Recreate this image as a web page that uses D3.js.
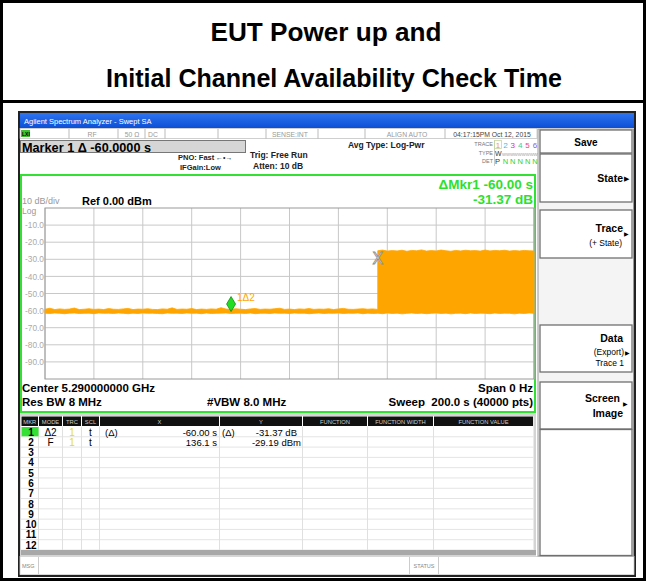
<!DOCTYPE html>
<html><head><meta charset="utf-8">
<script src="https://cdn.jsdelivr.net/npm/d3@7"></script>
<style>html,body{margin:0;padding:0;background:#fff}svg{display:block;font-family:"Liberation Sans",Arial,sans-serif}</style>
</head><body><svg id="c" width="646" height="581"></svg>
<script>
// ---------------- data ----------------
const titleLines = ["EUT Power up and", "Initial Channel Availability Check Time"];
const sweepTime = [0, 200];              // s
const refRange = [-100, 0];             // dBm
const yTickValues = [-10, -20, -30, -40, -50, -60, -70, -80, -90];
const xGridValues = [0, 20, 40, 60, 80, 100, 120, 140, 160, 180, 200];

const floorTime = [0,2,4,6,8,10,12,14,16,18,20,22,24,26,28,30,32,34,36,38,40,42,44,46,48,50,52,54,56,58,60,62,64,66,68,70,72,74,76,78,80,82,84,86,88,90,92,94,96,98,100,102,104,106,108,110,112,114,116,118,120,122,124,126,128,130,132,134,136];
const floorHigh = [-59.2,-58.6,-59.4,-59.0,-59.3,-59.1,-58.5,-59.4,-59.2,-58.9,
  -59.3,-59.1,-59.4,-58.8,-59.2,-59.3,-59.0,-58.7,-59.4,-59.1,
  -59.2,-58.9,-59.3,-59.4,-59.0,-59.2,-58.4,-59.3,-59.1,-59.2,
  -58.8,-59.4,-59.1,-59.3,-59.0,-59.2,-58.3,-59.1,-59.3,-58.9,
  -59.2,-59.4,-59.0,-58.8,-59.3,-59.1,-59.2,-58.9,-58.6,-59.3,
  -59.1,-59.4,-59.0,-59.2,-58.8,-59.3,-59.1,-59.2,-58.9,-59.4,
  -59.0,-58.7,-59.2,-59.3,-59.1,-58.9,-59.2,-59.0,-59.3];
const floorLow = [-61.5,-61.7,-61.4,-61.6,-61.8,-61.5,-61.4,-61.7,-61.6,-61.5,
  -61.8,-61.4,-61.6,-61.5,-61.7,-61.4,-61.6,-61.8,-61.5,-61.7,
  -61.4,-61.6,-61.5,-61.7,-61.8,-61.4,-61.6,-61.5,-61.7,-61.4,
  -61.6,-61.5,-61.8,-61.4,-61.7,-61.6,-61.5,-61.4,-61.7,-61.6,
  -61.5,-61.7,-61.4,-61.8,-61.6,-61.5,-61.7,-61.4,-61.6,-61.5,
  -61.7,-61.4,-61.6,-61.5,-61.8,-61.6,-61.4,-61.7,-61.5,-61.6,
  -61.4,-61.7,-61.5,-61.6,-61.4,-61.8,-61.5,-61.7,-61.6];

const onTime = [136.1,138,140,142,144,146,148,150,152,154,156,158,160,162,164,166,168,170,172,174,176,178,180,182,184,186,188,190,192,194,196,198,200];
const onHigh = [-25.0,-24.6,-25.2,-24.9,-25.1,-24.7,-25.3,-24.8,-25.0,-24.5,
  -25.2,-24.9,-25.1,-24.6,-25.0,-25.3,-24.8,-25.1,-24.7,-25.0,
  -24.9,-25.2,-24.6,-25.1,-24.8,-25.0,-24.7,-25.2,-24.9,-25.1,
  -24.8,-25.0,-25.1];
const onLow = [-61.5,-61.8,-61.4,-61.7,-61.5,-61.9,-61.6,-61.4,-61.7,-61.5,
  -61.8,-61.6,-61.4,-61.7,-61.5,-61.9,-61.6,-61.5,-61.8,-61.4,
  -61.7,-61.5,-61.6,-61.8,-61.4,-61.7,-61.5,-61.6,-61.9,-61.5,
  -61.7,-61.4,-61.6];

// markers: marker 2 (fixed) at 136.1 s / -29.19 dBm; marker 1 delta = -60.00 s / -31.37 dB
const markerTime = [76.1, 136.1];
const markerValue = [-60.56, -29.19];

const tableCols = ["MKR","MODE","TRC","SCL","X","Y","FUNCTION","FUNCTION WIDTH","FUNCTION VALUE"];
const tableRowNums = ["1","2","3","4","5","6","7","8","9","10","11","12"];
const row1 = ["Δ2","1","t","(Δ)","-60.00 s","(Δ)","-31.37 dB"];
const row2 = ["F","1","t","","136.1 s","","-29.19 dBm"];

const statusLabels = ["RF","50 Ω","DC","SENSE:INT","ALIGN AUTO","04:17:15PM Oct 12, 2015"];
const traceNums = ["1","2","3","4","5","6"];
const traceColors = ["#f0a020","#20c8f0","#e020e0","#30d0a0","#f04080","#8060f0"];

// ---------------- drawing ----------------
const svg = d3.select("#c");
const F = '"Liberation Sans",Arial,sans-serif';
function txt(g, x, y, s, o) {
  o = o || {};
  return g.append("text").attr("x", x).attr("y", y).text(s)
    .attr("font-size", o.size || 10).attr("font-weight", o.bold ? "bold" : "normal")
    .attr("fill", o.fill || "#000").attr("text-anchor", o.anchor || "start");
}

// outer table
svg.append("rect").attr("x",1.5).attr("y",1.5).attr("width",643).attr("height",578)
  .attr("fill","#fff").attr("stroke","#000").attr("stroke-width",3);
svg.append("line").attr("x1",0).attr("x2",646).attr("y1",101.5).attr("y2",101.5)
  .attr("stroke","#000").attr("stroke-width",3);
const titleW = [231, 456];
const titleX = [326, 334];
titleLines.forEach((t,i)=> txt(svg, titleX[i], 41 + i*46, t, {size:25, bold:true, anchor:"middle"})
  .attr("textLength", titleW[i]).attr("lengthAdjust","spacingAndGlyphs"));

// screenshot frame
svg.append("rect").attr("x",19).attr("y",112).attr("width",616).attr("height",464)
  .attr("fill","#fff").attr("stroke","#222").attr("stroke-width",2);
const grad = svg.append("defs").append("linearGradient").attr("id","bar").attr("x1",0).attr("x2",0).attr("y1",0).attr("y2",1);
grad.append("stop").attr("offset","0").attr("stop-color","#2f74f0");
grad.append("stop").attr("offset","1").attr("stop-color","#0c4fd6");
svg.append("rect").attr("x",20).attr("y",113).attr("width",614).attr("height",15).attr("fill","url(#bar)");
txt(svg, 24, 124, "Agilent Spectrum Analyzer - Swept SA", {size:7.5, fill:"#fff"});

// status row
svg.append("rect").attr("x",20).attr("y",128.5).attr("width",517).attr("height",10).attr("fill","#fff").attr("stroke","#bbb").attr("stroke-width",0.7);
[69,118,145,165,218,266,318,365,445].forEach(x=>svg.append("line").attr("x1",x).attr("x2",x).attr("y1",129).attr("y2",138.5).attr("stroke","#aaa").attr("stroke-width",0.8));
svg.append("rect").attr("x",21).attr("y",130).attr("width",9).attr("height",7).attr("fill","#40c030");
txt(svg,22,136,"LXI",{size:5,bold:true,fill:"#000"});
const statX = [92,132,153,290,407,492];
statusLabels.forEach((s,i)=> txt(svg, statX[i], 136.5, s, {size:6.8, fill: i===5?"#444":"#999", anchor:"middle"}));

// marker bar
svg.append("rect").attr("x",20.5).attr("y",140.5).attr("width",225).attr("height",12).attr("fill","#d6d6d6").attr("stroke","#777").attr("stroke-width",1);
txt(svg, 22, 151.5, "Marker 1 Δ -60.0000 s", {size:12.7, bold:true});

txt(svg, 178, 160, "PNO: Fast", {size:7.5, bold:true, fill:"#222"});
txt(svg, 216, 160, "←•→", {size:7, fill:"#222"});
txt(svg, 180, 170, "IFGain:Low", {size:7.5, bold:true, fill:"#222"});
txt(svg, 250, 158, "Trig: Free Run", {size:8.5, bold:true, fill:"#222"});
txt(svg, 253, 169, "Atten: 10 dB", {size:8.5, bold:true, fill:"#222"});
txt(svg, 348, 147.5, "Avg Type: Log-Pwr", {size:8.5, bold:true, fill:"#222"});

txt(svg, 493, 146, "TRACE", {size:5.5, fill:"#777", anchor:"end"});
txt(svg, 493, 154.5, "TYPE", {size:5.5, fill:"#777", anchor:"end"});
txt(svg, 493, 163, "DET", {size:5.5, fill:"#777", anchor:"end"});
svg.append("line").attr("x1",494.5).attr("x2",494.5).attr("y1",140).attr("y2",166).attr("stroke","#ccc");
svg.append("rect").attr("x",494.5).attr("y",140.5).attr("width",7).attr("height",8).attr("fill","none").attr("stroke","#c8d8a0").attr("stroke-width",0.8);
traceNums.forEach((n,i)=> txt(svg, 498 + i*7.4, 147.5, n, {size:8, fill:traceColors[i], anchor:"middle"}));
txt(svg, 495, 155.5, "W", {size:7, fill:"#333"});
txt(svg, 502, 155.5, "WWWWWWWWWW", {size:4.2, fill:"#999"});
txt(svg, 495, 164, "P", {size:7.5, fill:"#333"});
["N","N","N","N","N"].forEach((n,i)=> txt(svg, 505.4 + i*7.4, 164, n, {size:7.5, fill:"#30d030", anchor:"middle"}));

// graph frame
svg.append("rect").attr("x",21).attr("y",175).attr("width",514).attr("height",237)
  .attr("fill","#fff").attr("stroke","#33e033").attr("stroke-width",2);
txt(svg, 533, 189, "ΔMkr1 -60.00 s", {size:13.5, bold:true, fill:"#2ee02e", anchor:"end"});
txt(svg, 533, 204, "-31.37 dB", {size:13.5, bold:true, fill:"#2ee02e", anchor:"end"});
txt(svg, 22, 204, "10 dB/div", {size:9, fill:"#999"});
txt(svg, 82, 205, "Ref 0.00 dBm", {size:11, bold:true});
txt(svg, 22, 214, "Log", {size:8.5, fill:"#999"});

const x = d3.scaleLinear().domain(sweepTime).range([45, 534]);
const y = d3.scaleLinear().domain(refRange).range([379, 208]);

const grid = svg.append("g");
grid.selectAll("line.v").data(xGridValues).join("line")
  .attr("x1",d=>x(d)).attr("x2",d=>x(d)).attr("y1",y(0)).attr("y2",y(-100))
  .attr("stroke","#c8c8c8").attr("stroke-width",1);
grid.selectAll("line.h").data(yTickValues).join("line")
  .attr("x1",x(0)).attr("x2",x(200)).attr("y1",d=>y(d)).attr("y2",d=>y(d))
  .attr("stroke","#c8c8c8").attr("stroke-width",1);
svg.append("rect").attr("x",x(0)).attr("y",y(0)).attr("width",x(200)-x(0)).attr("height",y(-100)-y(0))
  .attr("fill","none").attr("stroke","#9a9a9a").attr("stroke-width",1);

const yAxis = d3.axisLeft(y).tickValues(yTickValues).tickFormat(d=>d.toFixed(1)).tickSize(0).tickPadding(1);
const ya = svg.append("g").attr("transform",`translate(${x(0)},0)`).call(yAxis);
ya.select(".domain").remove();
ya.selectAll("text").attr("font-size",8.3).attr("fill","#aaa").attr("font-family",F);

// trace
const TRACE = "#ffa500";
const floorData = floorTime.map((t,i)=>({t, hi:floorHigh[i], lo:floorLow[i]}));
const onData = onTime.map((t,i)=>({t, hi:onHigh[i], lo:onLow[i]}));
const area = d3.area().x(d=>x(d.t)).y0(d=>y(d.lo)).y1(d=>y(d.hi));
svg.append("path").datum(floorData).attr("d",area).attr("fill",TRACE).attr("stroke",TRACE).attr("stroke-width",0.8);
svg.append("path").datum(onData).attr("d",area).attr("fill",TRACE).attr("stroke",TRACE).attr("stroke-width",0.8);

// marker 1 (green diamond) and label
const m1x = x(markerTime[0]), m1y = y(markerValue[0]);
svg.append("path").attr("d",`M${m1x},${m1y} L${m1x-4.5},${m1y-7.5} L${m1x},${m1y-15} L${m1x+4.5},${m1y-7.5} Z`)
  .attr("fill","#22dd22").attr("stroke","#0a7a0a").attr("stroke-width",0.7);
txt(svg, m1x+6, m1y-11, "1Δ2", {size:10, fill:"#ffa500"});
// marker 2 (gray X)
const m2x = x(markerTime[1]), m2y = y(markerValue[1]);
txt(svg, m2x, m2y+6, "X", {size:16, fill:"#fff", anchor:"middle"}).attr("stroke","#8a8a8a").attr("stroke-width",0.8);

txt(svg, 22, 392, "Center 5.290000000 GHz", {size:11.5, bold:true});
txt(svg, 22, 406, "Res BW 8 MHz", {size:11.5, bold:true});
txt(svg, 207, 406, "#VBW 8.0 MHz", {size:11.5, bold:true});
txt(svg, 533, 392, "Span 0 Hz", {size:11.5, bold:true, anchor:"end"});
txt(svg, 533, 406, "Sweep  200.0 s (40000 pts)", {size:11.5, bold:true, anchor:"end"}).style("white-space","pre");

// marker table
const colEdges = [21,38.5,62.5,81.5,99.5,219.5,302.5,367.5,433.5,533.5];
svg.append("rect").attr("x",20).attr("y",413).attr("width",516).attr("height",143).attr("fill","#d4d4d4");
svg.append("rect").attr("x",21).attr("y",416).attr("width",512.5).attr("height",134).attr("fill","#fff");
tableCols.forEach((c,i)=>{
  svg.append("rect").attr("x",colEdges[i]+0.5).attr("y",416.5).attr("width",colEdges[i+1]-colEdges[i]-1).attr("height",9.5).attr("fill","#111");
  txt(svg, (colEdges[i]+colEdges[i+1])/2, 424, c, {size:5.8, fill:"#ccc", anchor:"middle"});
});
const rowY = d3.scaleLinear().domain([0,12]).range([426.5, 550]);
tableRowNums.forEach((n,i)=>{
  svg.append("line").attr("x1",21).attr("x2",533.5).attr("y1",rowY(i+1)).attr("y2",rowY(i+1)).attr("stroke","#e4e4e4");
});
colEdges.slice(1,-1).forEach(cx=>svg.append("line").attr("x1",cx).attr("x2",cx).attr("y1",426.5).attr("y2",550).attr("stroke","#e0e0e0"));
svg.append("rect").attr("x",21.5).attr("y",rowY(0)+0.5).attr("width",17).attr("height",rowY(1)-rowY(0)-1).attr("fill","#33e033");
tableRowNums.forEach((n,i)=> txt(svg, 31, rowY(i)+9, n, {size:10, bold:true, anchor:"middle"}));
function drawRow(r, i){
  const by = rowY(i)+9;
  txt(svg, 50.5, by, r[0], {size:10, anchor:"middle"});
  txt(svg, 72, by, r[1], {size:10, fill:"#e8e000", anchor:"middle"});
  txt(svg, 90.5, by, r[2], {size:10, anchor:"middle"});
  txt(svg, 105, by, r[3], {size:9.5});
  txt(svg, 217, by, r[4], {size:9.5, anchor:"end"});
  txt(svg, 222, by, r[5], {size:9.5});
  txt(svg, r[6].endsWith("dBm") ? 301 : 297, by, r[6], {size:9.5, anchor:"end"});
}
drawRow(row1, 0); drawRow(row2, 1);
svg.append("rect").attr("x",21).attr("y",550).attr("width",515).attr("height",5).attr("fill","#a8a8a8");

// bottom message bar
svg.append("rect").attr("x",20).attr("y",556.5).attr("width",614).attr("height",18).attr("fill","#fff").attr("stroke","#ccc").attr("stroke-width",0.8);
txt(svg, 22, 568, "MSG", {size:5.5, fill:"#888"});
svg.append("line").attr("x1",38.5).attr("x2",38.5).attr("y1",557).attr("y2",574).attr("stroke","#ccc");
svg.append("line").attr("x1",409.5).attr("x2",409.5).attr("y1",557).attr("y2",574).attr("stroke","#ccc");
svg.append("line").attr("x1",438.5).attr("x2",438.5).attr("y1",557).attr("y2",574).attr("stroke","#ccc");
txt(svg, 424, 568, "STATUS", {size:5.5, fill:"#888", anchor:"middle"});

// softkey panel
svg.append("rect").attr("x",538).attr("y",129).attr("width",95.5).attr("height",427).attr("fill","#f4f4f4").attr("stroke","#999").attr("stroke-width",1);
const keys = [[130,153],[154,202],[210,258],[325,372],[382,429],[429.5,555.5]];
keys.forEach(k=> svg.append("rect").attr("x",540).attr("y",k[0]).attr("width",92).attr("height",k[1]-k[0])
  .attr("fill","#fff").attr("stroke","#707070").attr("stroke-width",1.3));
txt(svg, 586, 146, "Save", {size:10, bold:true, anchor:"middle"});
txt(svg, 623, 182, "State", {size:10.5, bold:true, anchor:"end"});
txt(svg, 629, 181, "▶", {size:7, anchor:"end"});
txt(svg, 623, 232, "Trace", {size:10.5, bold:true, anchor:"end"});
txt(svg, 629, 236, "▶", {size:6, anchor:"end"});
txt(svg, 622, 246, "(+ State)", {size:8.5, anchor:"end"});
txt(svg, 623, 342, "Data", {size:10.5, bold:true, anchor:"end"});
txt(svg, 624, 355, "(Export)", {size:8.5, anchor:"end"});
txt(svg, 630, 355, "▶", {size:6, anchor:"end"});
txt(svg, 624, 366, "Trace 1", {size:8.5, anchor:"end"});
txt(svg, 620, 402, "Screen", {size:10.5, bold:true, anchor:"end"});
txt(svg, 628, 406, "▶", {size:6, anchor:"end"});
txt(svg, 623, 417, "Image", {size:10.5, bold:true, anchor:"end"});
</script></body></html>
